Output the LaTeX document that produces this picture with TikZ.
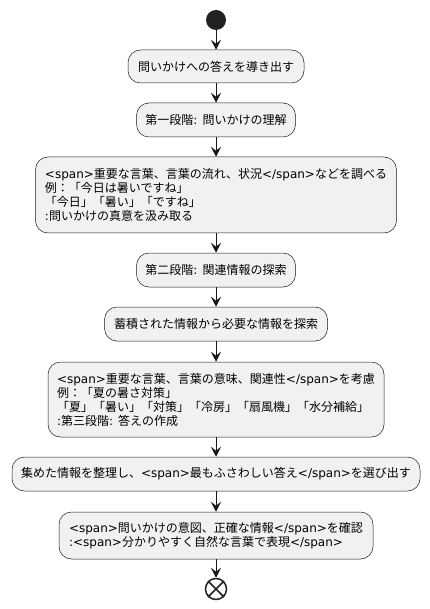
\documentclass[tikz,border=0pt]{standalone}
\usepackage{fontspec}
\setmainfont{Noto Sans CJK JP}
\newfontfamily\dvs{DejaVu Sans}
\usetikzlibrary{arrows.meta}
\definecolor{boxfill}{HTML}{F1F1F1}
\definecolor{ink}{HTML}{181818}
\definecolor{startc}{HTML}{222222}
\newcommand\dvt[1]{{\dvs #1}}
\tikzset{
  actbox/.style={draw=ink, line width=0.5pt, fill=boxfill, rounded corners=12.5pt,
    inner sep=0pt, align=left, font=\fontsize{12}{14}\selectfont, text=black},
  arr/.style={draw=ink, line width=1pt, -{Stealth[length=10pt,width=10pt,inset=4pt]}},
}
\begin{document}
\begin{tikzpicture}[x=1pt,y=-1pt]
\path[use as bounding box, fill=white] (0,0) rectangle (430,609);
\node[circle, fill=startc, inner sep=0pt, minimum size=20pt] (s) at (216,20) {};
\node[actbox, minimum width=176pt, minimum height=33pt] (b1) at (216,66.5) {問いかけへの答えを導き出す};
\node[actbox, minimum width=159pt, minimum height=34pt] (b2) at (216,120) {第一段階\dvt{: }問いかけの理解};
\node[actbox, minimum width=361pt, minimum height=76pt] (b3) at (216,195) {\dvt{<span>}重要な言葉、言葉の流れ、状況\dvt{</span>}などを調べる\\例：「今日は暑いですね」\\「今日」「暑い」「ですね」\\\dvt{:}問いかけの真意を汲み取る};
\node[actbox, minimum width=159pt, minimum height=34pt] (b4) at (216,270) {第二段階\dvt{: }関連情報の探索};
\node[actbox, minimum width=223pt, minimum height=34pt] (b5) at (216,324) {蓄積された情報から必要な情報を探索};
\node[actbox, minimum width=336pt, minimum height=75pt] (b6) at (216,399.5) {\dvt{<span>}重要な言葉、言葉の意味、関連性\dvt{</span>}を考慮\\例：「夏の暑さ対策」\\「夏」「暑い」「対策」「冷房」「扇風機」「水分補給」\\\dvt{:}第三段階\dvt{: }答えの作成};
\node[actbox, minimum width=408pt, minimum height=34pt] (b7) at (216,474) {集めた情報を整理し、\dvt{<span>}最もふさわしい答え\dvt{</span>}を選び出す};
\node[actbox, minimum width=314pt, minimum height=47pt] (b8) at (216,535.5) {\dvt{<span>}問いかけの意図、正確な情報\dvt{</span>}を確認\\\dvt{:<span>}分かりやすく自然な言葉で表現\dvt{</span>}};
\node[circle, draw=startc, line width=1.5pt, fill=white, inner sep=0pt, minimum size=21pt] (e) at (216,589) {};
\draw[startc, line width=1.6pt] (e.45) -- (e.225) (e.135) -- (e.315);
\draw[arr] (s) -- (b1);
\draw[arr] (b1) -- (b2);
\draw[arr] (b2) -- (b3);
\draw[arr] (b3) -- (b4);
\draw[arr] (b4) -- (b5);
\draw[arr] (b5) -- (b6);
\draw[arr] (b6) -- (b7);
\draw[arr] (b7) -- (b8);
\draw[arr] (b8) -- (e);
\end{tikzpicture}
\end{document}
